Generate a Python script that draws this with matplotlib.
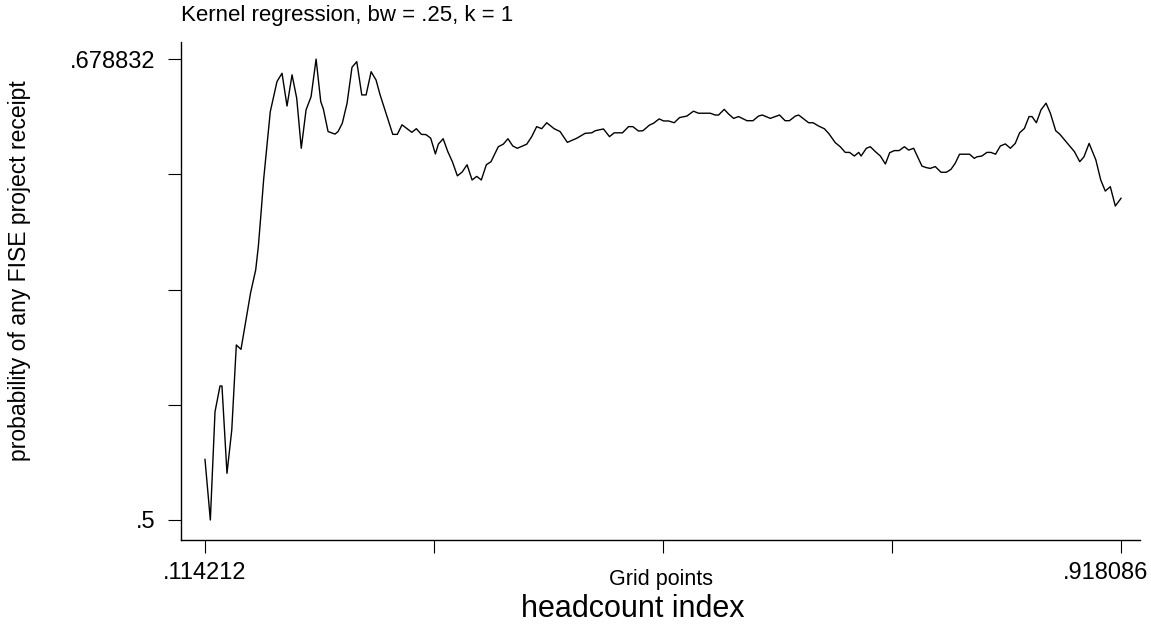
import numpy as np
import matplotlib
matplotlib.use("Agg")
from matplotlib import pyplot as plt
from matplotlib.transforms import ScaledTranslation

plt.rcParams['font.family'] = ['Liberation Sans', 'DejaVu Sans']

# kernel regression estimate (grid point, probability)
grid_x = [.1142, .1189, .1230, .1274, .1291, .1335, .1377, .1417, .1458, .1542,
          .1587, .1610, .1634, .1657, .1715, .1774, .1818, .1862, .1906, .1947,
          .1987, .2029, .2073, .2117, .2158, .2181, .2222, .2283, .2310, .2347,
          .2389, .2432, .2474, .2518, .2556, .2600, .2643, .2679, .2790, .2830,
          .2871, .2957, .2997, .3041, .3082, .3123, .3164, .3190, .3232, .3273,
          .3313, .3357, .3399, .3442, .3486, .3527, .3567, .3611, .3652, .3716,
          .3760, .3801, .3843, .3883, .3966, .4009, .4053, .4097, .4141, .4206,
          .4258, .4322, .4405, .4478, .4537, .4566, .4639, .4692, .4733, .4806,
          .4859, .4897, .4946, .4985, .5043, .5078, .5128, .5166, .5210, .5260,
          .5306, .5371, .5429, .5473, .5576, .5620, .5649, .5699, .5737, .5781,
          .5825, .5898, .5951, .6000, .6033, .6103, .6184, .6233, .6271, .6323,
          .6352, .6440, .6479, .6528, .6577, .6615, .6673, .6717, .6761, .6799,
          .6841, .6879, .6900, .6946, .6981, .7025, .7069, .7113, .7151, .7192,
          .7233, .7280, .7317, .7361, .7434, .7472, .7507, .7551, .7601, .7648,
          .7688, .7726, .7764, .7852, .7893, .7917, .7960, .8004, .8039, .8080,
          .8122, .8166, .8210, .8253, .8291, .8333, .8374, .8400, .8438, .8479,
          .8523, .8561, .8608, .8643, .8687, .8731, .8772, .8819, .8856, .8901,
          .8960, .9003, .9043, .9087, .9131, .9181]
prob_y = [.5235, .5000, .5420, .5520, .5520, .5181, .5349, .5679, .5662, .5881,
          .5970, .6060, .6191, .6322, .6584, .6701, .6733, .6606, .6727, .6636,
          .6442, .6591, .6642, .6788, .6623, .6594, .6507, .6497, .6507, .6539,
          .6617, .6756, .6778, .6649, .6649, .6739, .6707, .6649, .6496, .6496,
          .6533, .6504, .6518, .6496, .6495, .6481, .6420, .6458, .6479, .6429,
          .6390, .6335, .6350, .6378, .6319, .6333, .6319, .6378, .6390, .6448,
          .6458, .6479, .6451, .6442, .6458, .6487, .6526, .6518, .6541, .6518,
          .6507, .6465, .6481, .6500, .6502, .6510, .6517, .6487, .6502, .6502,
          .6526, .6526, .6509, .6510, .6532, .6539, .6556, .6548, .6548, .6541,
          .6561, .6567, .6586, .6578, .6578, .6571, .6571, .6593, .6575, .6558,
          .6565, .6549, .6549, .6567, .6571, .6558, .6571, .6549, .6549, .6567,
          .6571, .6541, .6541, .6528, .6518, .6500, .6464, .6448, .6426, .6426,
          .6412, .6426, .6412, .6442, .6448, .6429, .6412, .6381, .6425, .6433,
          .6433, .6448, .6435, .6442, .6373, .6367, .6364, .6371, .6349, .6349,
          .6360, .6384, .6419, .6419, .6403, .6409, .6412, .6426, .6426, .6419,
          .6451, .6459, .6442, .6461, .6502, .6519, .6565, .6565, .6541, .6591,
          .6617, .6578, .6510, .6497, .6474, .6451, .6429, .6390, .6409, .6461,
          .6397, .6319, .6276, .6293, .6218, .6248]

x_min, x_max = .114212, .918086
y_min, y_max = .5, .678832
x_ticks = np.linspace(x_min, x_max, 5)
y_ticks = np.linspace(y_min, y_max, 5)
x_ticklabels = ['.114212', '', '', '', '.918086']
y_ticklabels = ['.5', '', '', '', '.678832']

fig = plt.figure(figsize=(11.51, 6.29), dpi=100)
ax = fig.add_axes([181/1151, 89/629, 959/1151, 498/629])

ax.plot(grid_x, prob_y, color='black', linewidth=1.0)

ax.set_xlim(0.09315, 0.93476)
ax.set_ylim(0.49224, 0.68543)
ax.set_xticks(x_ticks)
ax.set_xticklabels(x_ticklabels)
ax.set_yticks(y_ticks)
ax.set_yticklabels(y_ticklabels)

for s in ['top', 'right']:
    ax.spines[s].set_visible(False)
for s in ['left', 'bottom']:
    ax.spines[s].set_linewidth(1.0)
ax.tick_params(axis='both', length=9.5, width=0.8, labelsize=17, pad=6)
ax.tick_params(axis='y', pad=9)

# keep the last x label inside the figure, as in the original
last = ax.get_xticklabels()[-1]
last.set_transform(last.get_transform() + ScaledTranslation(-0.15, 0, fig.dpi_scale_trans))

fig.text(181/1151, 1 - 15/629, 'Kernel regression, bw = .25, k = 1',
         fontsize=16, ha='left', va='center')
fig.text(20/1151, 1 - 271/629, 'probability of any FISE project receipt',
         fontsize=16.5, rotation=90, ha='center', va='center')
fig.text(661/1151, 1 - 580/629, 'Grid points', fontsize=15.5,
         ha='center', va='center')
fig.text(633/1151, 1 - 609/629, 'headcount index', fontsize=22,
         ha='center', va='center')

fig.savefig('out.png', dpi=100)
